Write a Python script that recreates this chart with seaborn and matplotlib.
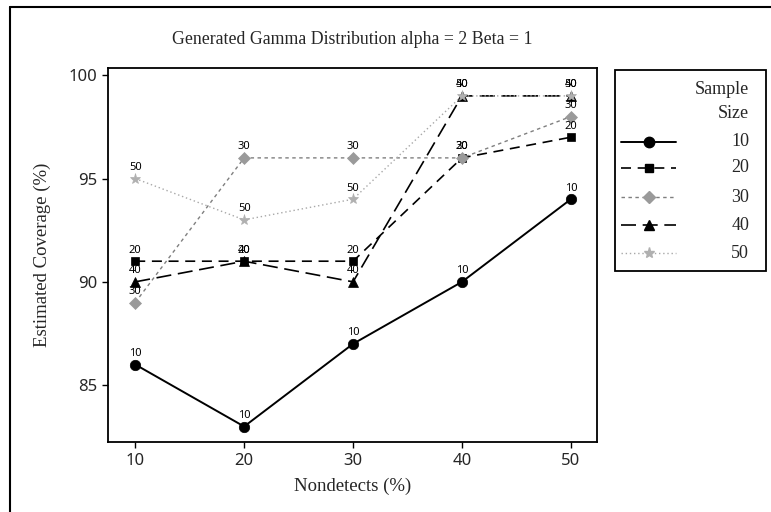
import matplotlib
matplotlib.use("Agg")
import matplotlib.pyplot as plt
import seaborn as sns
import pandas as pd
from matplotlib.lines import Line2D
from matplotlib.patches import Rectangle

# ---- data ----
nondetects = [10, 20, 30, 40, 50]
sample_sizes = ["10", "20", "30", "40", "50"]
cov_10 = [86, 83, 87, 90, 94]
cov_20 = [91, 91, 91, 96, 97]
cov_30 = [89, 96, 96, 96, 98]
cov_40 = [90, 91, 90, 99, 99]
cov_50 = [95, 93, 94, 99, 99]
series = [cov_10, cov_20, cov_30, cov_40, cov_50]

title = "Generated Gamma Distribution alpha = 2 Beta = 1"
xlabel = "Nondetects (%)"
ylabel = "Estimated Coverage (%)"
legend_title = ["Sample", "Size"]

# ---- styles ----
sns.set_style("white")
serif = ["Liberation Serif", "DejaVu Serif"]
sans = ["Noto Sans", "DejaVu Sans"]

styles = [
    dict(color="black", marker="o", ms=7.5, ls="-", lw=1.4, mfc="black"),
    dict(color="black", marker="s", ms=6, ls=(0, (6, 4)), lw=1.2, mfc="black"),
    dict(color="#7f7f7f", marker="D", ms=6, ls=(0, (2.5, 2.5)), lw=1.0, mfc="#9a9a9a"),
    dict(color="black", marker="^", ms=7, ls=(0, (9, 4)), lw=1.2, mfc="black"),
    dict(color="#a8a8a8", marker="*", ms=8, ls=(0, (1, 2)), lw=1.0, mfc="#b0b0b0"),
]

W, H = 771, 512
fig = plt.figure(figsize=(W / 100, H / 100), dpi=100)
fig.patch.set_facecolor("white")

# axes in pixel positions
ax_l, ax_r, ax_t, ax_b = 108, 597, 68, 442
ax = fig.add_axes([ax_l / W, 1 - ax_b / H, (ax_r - ax_l) / W, (ax_b - ax_t) / H])

for name, vals, st in zip(sample_sizes, series, styles):
    df = pd.DataFrame({"x": nondetects, "y": vals})
    sns.lineplot(data=df, x="x", y="y", ax=ax, color=st["color"], marker=st["marker"],
                 markersize=st["ms"], linestyle=st["ls"], linewidth=st["lw"],
                 markerfacecolor=st["mfc"], markeredgecolor=st["mfc"], markeredgewidth=0.5)
    for xv, yv in zip(nondetects, vals):
        ax.annotate(name, (xv, yv), xytext=(0, 4), textcoords="offset points",
                    ha="center", va="bottom", fontsize=8, family=sans, color="black")

ax.set_xlim(7.5, 52.4)
ax.set_ylim(82.25, 100.35)
ax.set_xticks(nondetects)
ax.set_yticks([85, 90, 95, 100])
ax.tick_params(axis="both", direction="out", length=4, width=1, color="black",
               labelsize=12, pad=4, left=True, bottom=True)
for lab in ax.get_xticklabels() + ax.get_yticklabels():
    lab.set_family(sans)
for s in ax.spines.values():
    s.set_color("black")
    s.set_linewidth(1.3)
ax.set_xlabel(xlabel, family=serif, fontsize=13.5, labelpad=6)
ax.set_ylabel(ylabel, family=serif, fontsize=13.5, labelpad=12)
ax.grid(False)

fig.text((ax_l + ax_r) / 2 / W, 1 - 40 / H, title, ha="center", va="center",
         family=serif, fontsize=12.8)

# ---- legend (manual, in pixel coordinates) ----
lx0, lx1, ly0, ly1 = 614, 766, 69, 271
lax = fig.add_axes([lx0 / W, 1 - ly1 / H, (lx1 - lx0) / W, (ly1 - ly0) / H])
lax.set_xlim(lx0, lx1)
lax.set_ylim(ly1, ly0)
lax.axis("off")
lax.add_patch(Rectangle((lx0 + 0.5, ly0 + 0.5), lx1 - lx0 - 1, ly1 - ly0 - 1,
                        fill=False, ec="black", lw=1.3, clip_on=False))
lax.text(749, 90, legend_title[0], ha="right", va="center", family=serif, fontsize=13)
lax.text(749, 113, legend_title[1], ha="right", va="center", family=serif, fontsize=13)
ys = [142, 168, 197, 225, 253]
for name, st, yy in zip(sample_sizes, styles, ys):
    lax.add_line(Line2D([621, 676], [yy, yy], color=st["color"], linestyle=st["ls"],
                        linewidth=st["lw"]))
    lax.add_line(Line2D([649], [yy], color=st["color"], marker=st["marker"],
                        markersize=st["ms"], markerfacecolor=st["mfc"],
                        markeredgecolor=st["mfc"], linestyle="none"))
    lax.text(749, yy, name, ha="right", va="center", family=serif, fontsize=13)

# ---- outer frame (top and left edges visible) ----
fig.add_artist(Line2D([10 / W, 1.0], [1 - 7 / H, 1 - 7 / H], color="black", lw=1.5,
                      transform=fig.transFigure))
fig.add_artist(Line2D([10 / W, 10 / W], [0, 1 - 7 / H], color="black", lw=1.5,
                      transform=fig.transFigure))

fig.savefig("out.png", dpi=100, facecolor="white")
